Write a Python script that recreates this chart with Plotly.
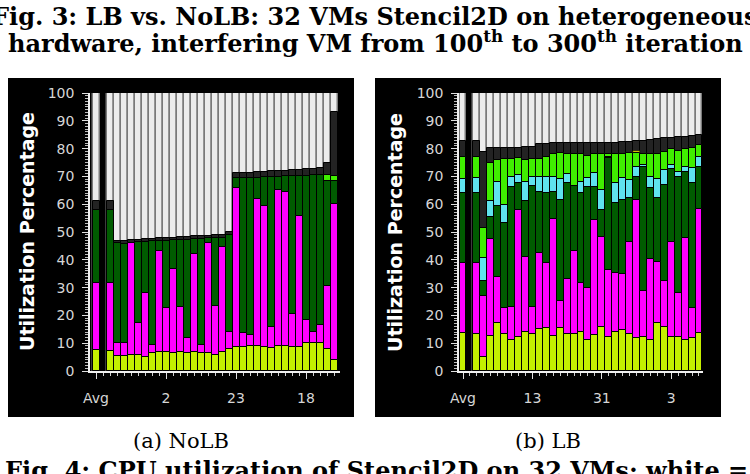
import plotly.graph_objects as go

W, H = 750, 474

# ---------------- data ----------------
# bar slots: 0 = "Avg", 1 = empty gap, 2..34 = individual VMs
slots = [0] + list(range(2, 35))

nolb_tick_text = ["Avg", "2", "23", "18"]
lb_tick_text = ["Avg", "13", "31", "3"]
tick_slots = [0, 10, 20, 30]

# NoLB: cumulative levels (top of each coloured layer)
nolb_lime = [7.6, 7.3, 5.3, 5.4, 5.7, 5.7, 5.2, 6.4, 7.0, 7.0, 6.6, 7.0, 6.4, 7.0,
             6.4, 6.4, 5.8, 7.0, 7.8, 8.7, 8.7, 9.0, 9.0, 8.7, 8.1, 9.0, 9.0, 8.7,
             8.5, 9.9, 9.9, 9.9, 7.8, 3.9]
nolb_magenta = [31.5, 31.5, 10.0, 10.0, 46.2, 17.1, 28.0, 9.5, 43.0, 22.6, 36.6, 23.0,
                12.0, 42.0, 9.5, 46.2, 23.4, 44.5, 14.0, 66.0, 13.5, 13.0, 61.7, 59.3,
                15.7, 65.0, 64.5, 20.5, 55.8, 18.4, 14.0, 16.4, 30.7, 60.2]
nolb_dgreen = [58.0, 58.0, 45.9, 45.8, 46.0, 46.3, 46.4, 46.6, 46.8, 46.9, 47.0, 47.1,
               47.3, 47.4, 47.6, 47.7, 47.9, 48.0, 48.9, 69.3, 69.4, 69.5, 69.6, 69.7,
               69.8, 69.9, 70.0, 70.1, 70.2, 70.3, 70.5, 70.6, 68.2, 68.2]
nolb_bgreen = [None] * 32 + [70.5, 70.3]
nolb_dark = [61.0, 61.0, 46.8, 46.9, 47.0, 47.3, 47.4, 47.6, 47.8, 47.9, 48.0, 48.1,
             48.3, 48.4, 48.6, 48.7, 48.9, 49.0, 50.1, 71.2, 71.3, 71.4, 71.5, 71.6,
             71.8, 71.9, 72.0, 72.2, 72.4, 72.6, 72.8, 73.0, 74.7, 93.3]
nolb_white = [100.0] * 34

# LB: cumulative levels
lb_lime = [13.5, 13.2, 5.2, 12.7, 17.4, 13.2, 11.2, 12.1, 13.9, 13.2, 15.0, 15.3, 12.6,
           15.3, 13.2, 13.2, 13.9, 11.2, 13.0, 15.9, 12.1, 13.9, 14.7, 13.2, 11.7, 12.1,
           11.2, 17.2, 15.9, 12.1, 12.1, 11.2, 11.7, 13.5]
lb_magenta = [38.7, 38.7, 27.0, 47.4, 33.9, 22.5, 23.2, 57.9, 41.1, 23.2, 42.6, 38.7, 54.6,
              25.3, 33.0, 43.0, 31.5, 29.7, 54.3, 48.3, 36.3, 35.4, 34.9, 46.5, 61.5, 28.9,
              40.3, 39.3, 32.4, 46.5, 28.0, 47.7, 22.5, 58.2]
lb_dgreen = [63.9, 63.9, 32.5, 55.5, 59.4, 53.4, 66.1, 67.5, 61.3, 66.5, 64.5, 63.9, 64.5,
             61.5, 67.8, 66.5, 64.0, 66.3, 66.3, 57.9, 76.5, 60.3, 61.5, 62.1, 69.9, 73.3,
             65.7, 62.1, 66.9, 72.5, 69.9, 71.7, 67.5, 73.3]
lb_cyan = [69.0, 69.3, 40.5, 61.3, 68.1, 59.7, 69.9, 70.5, 68.1, 69.9, 69.7, 69.9, 69.9,
           69.0, 70.7, 66.5, 68.0, 69.5, 71.3, 65.1, 77.1, 67.5, 69.3, 68.7, 73.3, 74.1,
           69.9, 69.0, 72.3, 74.1, 71.7, 73.3, 72.9, 76.9]
lb_bgreen = [76.9, 77.1, 51.3, 74.7, 75.9, 76.1, 76.1, 76.5, 75.9, 76.1, 76.1, 76.9, 78.1,
             78.5, 78.1, 78.1, 77.9, 77.5, 78.1, 78.1, 78.1, 78.1, 78.1, 78.5, 78.5, 78.1,
             78.1, 78.1, 78.9, 79.7, 79.3, 79.7, 80.1, 81.3]
lb_yellow = [None] * 24 + [79.0] + [None] * 9
lb_dark = [82.7, 82.7, 78.9, 80.1, 80.1, 80.1, 80.1, 80.3, 80.5, 80.7, 81.5, 81.5, 81.9,
           81.9, 81.9, 81.9, 81.9, 81.9, 81.9, 82.1, 82.1, 82.1, 82.3, 82.5, 82.7, 82.7,
           83.1, 83.5, 83.7, 83.9, 84.1, 84.1, 84.5, 84.9]
lb_white = [100.0] * 34

# ---------------- style ----------------
C_WHITE = "#ececec"
C_DARK = "#232323"
C_BGREEN = "#40ee00"
C_CYAN = "#5fe3ee"
C_DGREEN = "#005c00"
C_MAGENTA = "#ff00ff"
C_LIME = "#c4f000"
C_YELLOW = "#f0e000"


def px_x(p):
    return p / W


def px_y(p):
    return 1 - p / H


fig = go.Figure()


def add_layers(layers, xa, ya):
    for vals, color, lc, lw in layers:
        fig.add_trace(go.Bar(
            x=slots, y=vals, width=1.0, xaxis=xa, yaxis=ya,
            marker=dict(color=color, line=dict(color=lc, width=lw)),
            opacity=1, hoverinfo="skip", showlegend=False))


add_layers([
    (nolb_white, C_WHITE, "#7a7a7a", 1.5),
    (nolb_dark, C_DARK, "#000000", 1),
    (nolb_bgreen, C_BGREEN, "#000000", 1),
    (nolb_dgreen, C_DGREEN, "#000000", 1),
    (nolb_magenta, C_MAGENTA, "#000000", 1),
    (nolb_lime, C_LIME, "#000000", 1),
], "x", "y")

add_layers([
    (lb_white, C_WHITE, "#7a7a7a", 1.5),
    (lb_dark, C_DARK, "#000000", 1),
    (lb_yellow, C_YELLOW, "#000000", 0.5),
    (lb_bgreen, C_BGREEN, "#000000", 1),
    (lb_cyan, C_CYAN, "#000000", 1),
    (lb_dgreen, C_DGREEN, "#000000", 1),
    (lb_magenta, C_MAGENTA, "#000000", 1),
    (lb_lime, C_LIME, "#000000", 1),
], "x2", "y2")

tickfont = dict(family="DejaVu Sans", size=14, color="#d6d6d6")


def xaxis_cfg(domain, rng, labels, anchor):
    return dict(domain=domain, range=rng, anchor=anchor, automargin=False,
                tickmode="array", tickvals=tick_slots,
                ticktext=labels, ticks="outside", ticklen=6, tickwidth=1,
                tickcolor="#e0e0e0", showline=True, linecolor="#f0f0f0", linewidth=1.5,
                showgrid=False, zeroline=False, tickfont=tickfont, ticklabelstandoff=7,
                minor=dict(tickmode="linear", tick0=0, dtick=1, ticks="outside",
                           ticklen=3, tickcolor="#cfcfcf", tickwidth=1, showgrid=False),
                fixedrange=True)


def yaxis_cfg(anchor, standoff):
    return dict(domain=[px_y(371), px_y(93)], range=[0, 100], anchor=anchor,
                automargin=False,
                tickmode="array", tickvals=list(range(0, 101, 10)),
                ticks="outside", ticklen=6, tickwidth=1, tickcolor="#e0e0e0",
                showline=True, linecolor="#f0f0f0", linewidth=1.5, showgrid=False,
                zeroline=False, tickfont=tickfont, ticklabelstandoff=standoff,
                minor=dict(tickmode="linear", tick0=0, dtick=1, ticks="outside",
                           ticklen=3, tickcolor="#bdbdbd", tickwidth=1, showgrid=False),
                fixedrange=True)


fig.update_layout(
    width=W, height=H, margin=dict(l=0, r=0, t=0, b=0, autoexpand=False),
    paper_bgcolor="white", plot_bgcolor="black",
    barmode="overlay", bargap=0, showlegend=False,
    xaxis=xaxis_cfg([px_x(90), px_x(340)], [-0.857, 34.857], nolb_tick_text, "y"),
    yaxis=yaxis_cfg("x", 5),
    xaxis2=xaxis_cfg([px_x(459), px_x(703)], [-0.576, 34.58], lb_tick_text, "y2"),
    yaxis2=yaxis_cfg("x2", 5),
)

# black panels behind each chart
for x0, x1 in [(8, 354), (375, 721)]:
    fig.add_shape(type="rect", xref="paper", yref="paper",
                  x0=px_x(x0), x1=px_x(x1), y0=px_y(417), y1=px_y(78),
                  fillcolor="black", line=dict(width=0), layer="below")

serif_b = dict(family="DejaVu Serif", size=24, color="black", weight="bold")
caption = dict(family="DejaVu Serif", size=21, color="black")
ylab = dict(family="DejaVu Sans", size=19, color="white", weight="bold")
ann = [
    dict(text="Fig. 3: LB vs. NoLB: 32 VMs Stencil2D on heterogeneous",
         x=px_x(375), y=px_y(16), font=serif_b),
    dict(text="hardware, interfering VM from 100<sup>th</sup> to 300<sup>th</sup> iteration",
         x=px_x(375), y=px_y(42), font=serif_b),
    dict(text="(a) NoLB", x=px_x(181), y=px_y(441), font=caption),
    dict(text="(b) LB", x=px_x(548), y=px_y(441), font=caption),
    dict(text="Fig. 4: CPU utilization of Stencil2D on 32 VMs; white =",
         x=px_x(376), y=px_y(470), font=serif_b),
    dict(text="Utilization Percentage", x=px_x(27), y=px_y(232), textangle=-90, font=ylab),
    dict(text="Utilization Percentage", x=px_x(395), y=px_y(232), textangle=-90, font=ylab),
]
for a in ann:
    a.update(xref="paper", yref="paper", showarrow=False, xanchor="center", yanchor="middle")
fig.update_layout(annotations=ann)

fig.write_html("out.html")
